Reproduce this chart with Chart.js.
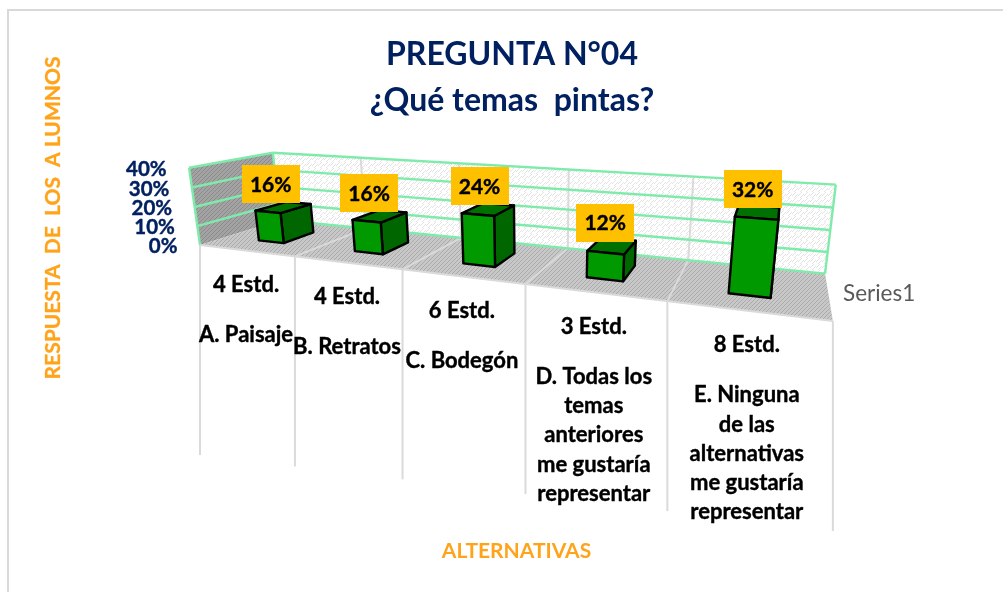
<!DOCTYPE html>
<html><head><meta charset="utf-8">
<style>html,body{margin:0;padding:0;background:#fff;overflow:hidden}canvas{display:block}</style>
<script src="https://cdn.jsdelivr.net/npm/chart.js@4/dist/chart.umd.js"></script>
</head><body><canvas id="c" width="1003" height="592"></canvas>
<script>
const students = ["4 Estd.","4 Estd.","6 Estd.","3 Estd.","8 Estd."];
const options = [["A. Paisaje"],["B. Retratos"],["C. Bodegón"],
  ["D. Todas los","temas","anteriores","me gustaría","representar"],
  ["E. Ninguna","de las","alternativas","me gustaría","representar"]];
const percents = [16,16,24,12,32];
const yTicks = [0,10,20,30,40];
const seriesName = "Series1";
const titleText = "PREGUNTA N°04";
const subtitleText = "¿Qué temas  pintas?";
const xTitle = "ALTERNATIVAS";
const yTitle = "RESPUESTA  DE  LOS  A LUMNOS";

const FONT = "Lato, Carlito, sans-serif";
const NAVY = "#002060", ORANGE = "#FFA31A";

// Perspective camera of the 3D box, applied to the scales' normalised output (u: along categories, v: depth, h: height)
const cam = {ax:388, bx:124, cx:-16.8, ay:-18.4, by:9.5, cy:-82.5, ox:200, oy:245, g:-0.294, i:0.157, k:-0.0312};
function project(u,v,h){
  const w = 1 + cam.g*u + cam.i*v + cam.k*h;
  return {x:(cam.ox+cam.ax*u+cam.bx*v+cam.cx*h)/w, y:(cam.oy+cam.ay*u+cam.by*v+cam.cy*h)/w};
}
function poly(ctx,pts,fill,stroke,lw){
  ctx.beginPath();
  pts.forEach((p,i)=> i?ctx.lineTo(p.x,p.y):ctx.moveTo(p.x,p.y));
  ctx.closePath();
  if(fill){ctx.fillStyle=fill;ctx.fill();}
  if(stroke){ctx.strokeStyle=stroke;ctx.lineWidth=lw;ctx.lineJoin="round";ctx.stroke();}
}
function seg(ctx,a,b,stroke,lw){
  ctx.beginPath();ctx.moveTo(a.x,a.y);ctx.lineTo(b.x,b.y);ctx.strokeStyle=stroke;ctx.lineWidth=lw;ctx.stroke();
}
function hatch(ctx,bg,fg,size){
  const n=size||4;
  const c=document.createElement("canvas");c.width=c.height=n;
  const t=c.getContext("2d");t.fillStyle=bg;t.fillRect(0,0,n,n);
  t.strokeStyle=fg;t.lineWidth=1;t.beginPath();t.moveTo(-1,n-1);t.lineTo(n-1,-1);t.moveTo(1,n+1);t.lineTo(n+1,1);t.stroke();
  return ctx.createPattern(c,"repeat");
}
function heavyText(ctx,text,x,y,weight){
  ctx.strokeStyle=ctx.fillStyle;ctx.lineWidth=weight;ctx.lineJoin="round";
  ctx.strokeText(text,x,y);ctx.fillText(text,x,y);
}
const BAR_V = [0.3,0.7];
class Bar3D extends Chart.BarController {
  draw(){
    const ctx=this.chart.ctx, a=this.chart.chartArea;
    const elems=this.getMeta().data;
    elems.forEach(el=>{
      const u0=(el.x-el.width/2-a.left)/a.width, u1=(el.x+el.width/2-a.left)/a.width;
      const h=(a.bottom-el.y)/a.height;
      const [v0,v1]=BAR_V;
      const p=project;
      const lw=2.4;
      poly(ctx,[p(u1,v0,0),p(u1,v1,0),p(u1,v1,h),p(u1,v0,h)],"#006600","#000",lw);
      poly(ctx,[p(u0,v0,h),p(u1,v0,h),p(u1,v1,h),p(u0,v1,h)],"#007000","#000",lw);
      poly(ctx,[p(u0,v0,0),p(u1,v0,0),p(u1,v0,h),p(u0,v0,h)],"#009A00","#000",lw);
    });
  }
}
Bar3D.id="bar3d";
Bar3D.defaults=Chart.BarController.defaults;
Chart.register(Bar3D);

const box3d={
  id:"box3d",
  beforeDatasetsDraw(chart){
    const ctx=chart.ctx;
    ctx.save();
    // chart frame
    ctx.strokeStyle="#D9D9D9";ctx.lineWidth=2;
    ctx.beginPath();ctx.moveTo(8,592);ctx.lineTo(8,10);ctx.lineTo(1003,10);ctx.stroke();
    const grid="#7FEBAA", soft="#DADADA";
    // walls and floor
    poly(ctx,[project(0,0,0),project(0,1,0),project(0,1,1),project(0,0,1)],hatch(ctx,"#A3A3A3","#8A8A8A"));
    poly(ctx,[project(0,1,0),project(1,1,0),project(1,1,1),project(0,1,1)],hatch(ctx,"#FFFFFF","#E4E4E4",6));
    poly(ctx,[project(0,0,0),project(1,0,0),project(1,1,0),project(0,1,0)],hatch(ctx,"#C8C8C8","#AAAAAA"));
    const us=chart.data.labels.map((_,i)=>(i+1)/chart.data.labels.length);
    us.slice(0,-1).forEach(u=>{
      seg(ctx,project(u,1,0),project(u,1,1),soft,2);
      seg(ctx,project(u,0,0),project(u,1,0),soft,2);
    });
    // green gridlines from the value scale
    const ys=chart.scales.y, a=chart.chartArea;
    ys.ticks.forEach(t=>{
      const h=(a.bottom-ys.getPixelForValue(t.value))/a.height;
      if(h>0){seg(ctx,project(0,0,h),project(0,1,h),grid,2.4);}
      seg(ctx,project(0,1,h),project(1,1,h),grid,2.4);
    });
    seg(ctx,project(0,0,0),project(0,0,1),grid,2.4);
    seg(ctx,project(0,1,0),project(0,1,1),grid,2.4);
    seg(ctx,project(1,1,0),project(1,1,1),grid,2.4);
    // floor front edge + category dividers
    seg(ctx,project(0,0,0),project(1,0,0),soft,2);
    [0,...us].forEach(u=>{
      const p=project(u,0,0);
      seg(ctx,p,{x:p.x,y:p.y+210},soft,2);
    });
    ctx.restore();
  },
  afterDatasetsDraw(chart){
    const ctx=chart.ctx, a=chart.chartArea, xs=chart.scales.x, ys=chart.scales.y;
    ctx.save();
    ctx.textBaseline="middle";
    // value-axis labels follow the front edge of the side wall
    ctx.font="bold 20.5px "+FONT;ctx.fillStyle=NAVY;ctx.textAlign="right";
    ys.ticks.forEach(t=>{
      const h=(a.bottom-ys.getPixelForValue(t.value))/a.height;
      const p=project(0,0,h);
      heavyText(ctx,t.label,p.x-22.5,p.y+1.5,0.4);
    });
    // category labels
    ctx.font="bold 22px "+FONT;ctx.fillStyle="#000";ctx.textAlign="center";
    chart.data.labels.forEach((lab,i)=>{
      const u=(xs.getPixelForValue(i)-a.left)/a.width;
      const p=project(u,0,0);
      heavyText(ctx,students[i],p.x,p.y+34.5,0.4);
      options[i].forEach((ln,j)=>heavyText(ctx,ln,p.x,p.y+84.5+j*29.3,0.4));
    });
    // data labels
    const meta=chart.getDatasetMeta(0);
    meta.data.forEach((el,i)=>{
      const u=(el.x-a.left)/a.width, h=(a.bottom-el.y)/a.height;
      const p=project(u,0.5,h);
      const cx=p.x-14+10*u, cy=p.y-23;
      ctx.fillStyle="#FFC000";ctx.fillRect(Math.round(cx-29),Math.round(cy-19),58,38);
      ctx.fillStyle="#000";ctx.font="bold 21px "+FONT;
      heavyText(ctx,percents[i]+"%",cx,cy+1,0.4);
    });
    // legend entry
    ctx.font="22.5px "+FONT;ctx.fillStyle="#595959";ctx.textAlign="left";
    ctx.fillText(seriesName,843,294);
    // value-axis title
    ctx.translate(53,218);ctx.rotate(-Math.PI/2);
    ctx.font="bold 21px "+FONT;ctx.fillStyle=ORANGE;ctx.textAlign="center";
    heavyText(ctx,yTitle,0,0,0.3);
    ctx.restore();
  }
};

new Chart(document.getElementById("c"),{
  type:"bar3d",
  data:{labels:options.map(o=>o.join(" ")),datasets:[{label:seriesName,data:percents,barPercentage:0.27,categoryPercentage:1,clip:false}]},
  plugins:[box3d],
  options:{
    responsive:false,animation:false,devicePixelRatio:1,
    layout:{padding:{top:35.8,left:191,right:170,bottom:0}},
    plugins:{
      legend:{display:false},tooltip:{enabled:false},
      title:{display:true,text:titleText,color:NAVY,font:{family:FONT,size:32,weight:"bold",lineHeight:1.2},padding:{top:0,bottom:7.6}},
      subtitle:{display:true,text:subtitleText,color:NAVY,font:{family:FONT,size:32,weight:"bold",lineHeight:1.2},padding:{top:0,bottom:47.8}}
    },
    scales:{
      x:{type:"category",offset:true,grid:{display:false},border:{display:false},ticks:{display:false},
         title:{display:true,text:xTitle,color:ORANGE,font:{family:FONT,size:21,weight:"bold",lineHeight:1.2},padding:{top:0,bottom:28.4}},
         afterFit(s){s.height=347;}},
      y:{type:"linear",min:0,max:40,grid:{display:false},border:{display:false},
         ticks:{display:false,stepSize:10,callback:v=>v+"%"},
         afterFit(s){s.width=9;}}
    }
  }
});
</script></body></html>
